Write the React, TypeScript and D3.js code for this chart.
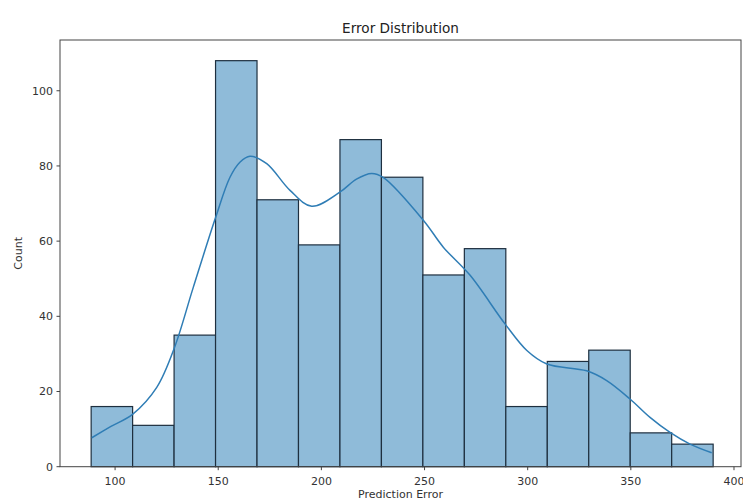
import React from 'react';
import * as d3 from 'd3';

// histogram bins
const binEdges = [88.4, 108.5, 128.6, 148.7, 168.8, 188.9, 209.0, 229.1, 249.2, 269.3, 289.4, 309.5, 329.6, 349.7, 369.8, 389.9];
const counts = [16, 11, 35, 108, 71, 59, 87, 77, 51, 58, 16, 28, 31, 9, 6];

// kde curve, sampled by eye (x, count)
const kdeX = [88.7, 98, 108.6, 120.2, 128.8, 137.9, 148.8, 155.7, 160.5, 165.4, 173.5, 184.8, 195.3, 209.1, 217, 224.4, 230.1, 249.5, 259.1, 272.1, 289, 299.6, 309.3, 328.6, 338.3, 349.6, 359.3, 369, 378.7, 389.2];
const kdeY = [7.7, 10.7, 14, 21.1, 31.7, 47.7, 66.4, 77, 81, 82.6, 80.6, 73.5, 69.3, 73.1, 76.5, 78, 76.9, 65.5, 58.4, 50.9, 38, 30.9, 27.3, 25.5, 22.9, 18, 13.1, 9.1, 6, 3.7];

const xTicks = [100, 150, 200, 250, 300, 350, 400];
const yTicks = [0, 20, 40, 60, 80, 100];

const W = 743;
const H = 502;
const margin = { left: 60, right: 2, top: 40, bottom: 35.3 };

export default function App() {
	const x = d3.scaleLinear().domain([73.3, 403.4]).range([margin.left, W - margin.right]);
	const y = d3.scaleLinear().domain([0, 113.5]).range([H - margin.bottom, margin.top]);

	const line = d3
		.line<number>()
		.x((d, i) => x(kdeX[i]))
		.y((d) => y(d))
		.curve(d3.curveCatmullRom);

	const font = 'DejaVu Sans, sans-serif';
	const x0 = margin.left;
	const x1 = W - margin.right;
	const y0 = H - margin.bottom;
	const y1 = margin.top;

	return (
		<svg width={W} height={H} style={{ position: 'absolute', left: 0, top: 0, background: '#fff' }} fontFamily={font}>
			{/* bars */}
			<g>
				{counts.map((c, i) => (
					<rect
						key={i}
						x={x(binEdges[i])}
						y={y(c)}
						width={x(binEdges[i + 1]) - x(binEdges[i])}
						height={y(0) - y(c)}
						fill="#8fbbd9"
						stroke="#1e2f3f"
						strokeWidth={1.2}
					/>
				))}
			</g>

			<path d={line(kdeY) || ''} fill="none" stroke="#2f7db5" strokeWidth={1.5} />

			{/* spines */}
			<rect x={x0} y={y1} width={x1 - x0} height={y0 - y1} fill="none" stroke="#444" strokeWidth={1} />

			{/* x axis */}
			<g fontSize={11} fill="#333">
				{xTicks.map((t) => (
					<g key={t} transform={`translate(${x(t)},${y0})`}>
						<line y2={3.5} stroke="#444" />
						<text y={18} textAnchor="middle">
							{t}
						</text>
					</g>
				))}
			</g>

			{/* y axis */}
			<g fontSize={11} fill="#333">
				{yTicks.map((t) => (
					<g key={t} transform={`translate(${x0},${y(t)})`}>
						<line x2={-3.5} stroke="#444" />
						<text x={-7} dy="0.35em" textAnchor="end">
							{t}
						</text>
					</g>
				))}
			</g>

			<text x={(x0 + x1) / 2} y={33} textAnchor="middle" fontSize={13.6} fill="#222">
				Error Distribution
			</text>
			<text x={(x0 + x1) / 2} y={498} textAnchor="middle" fontSize={11} fill="#333">
				Prediction Error
			</text>
			<text transform={`translate(22,${(y0 + y1) / 2}) rotate(-90)`} textAnchor="middle" fontSize={11} fill="#333">
				Count
			</text>
		</svg>
	);
}
